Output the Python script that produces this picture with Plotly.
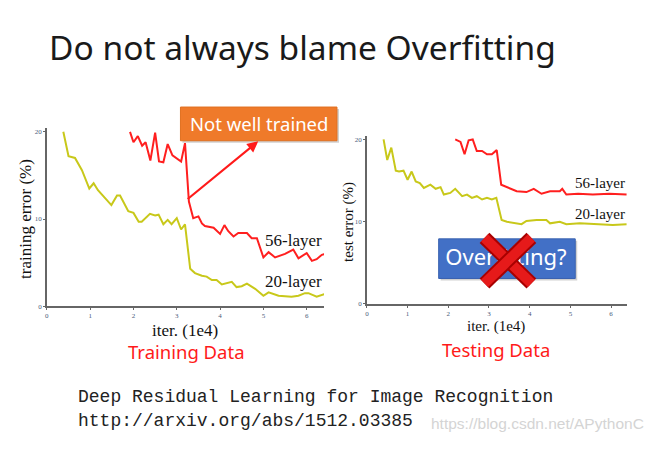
import plotly.graph_objects as go

W, H = 656, 449

# ---- data (iterations in 1e4, error in %) ----
train20_x = [0.38, 0.5, 0.65, 0.81, 0.98, 1.08, 1.18, 1.49, 1.62, 1.69, 1.88, 2.0, 2.12, 2.19, 2.38, 2.5, 2.58, 2.69, 2.79, 2.88, 3.0, 3.1, 3.19, 3.31, 3.42, 3.58, 3.69, 3.81, 3.92, 4.04, 4.27, 4.38, 4.5, 4.62, 4.81, 5.0, 5.12, 5.35, 5.65, 5.81, 5.96, 6.04, 6.23, 6.42]
train20_y = [20.0, 17.2, 17.0, 15.6, 13.5, 14.1, 13.3, 11.6, 12.7, 12.7, 10.9, 10.7, 9.7, 9.7, 10.6, 10.4, 10.5, 9.4, 9.9, 9.4, 10.1, 8.8, 9.4, 4.3, 3.8, 3.5, 3.4, 3.0, 3.0, 2.5, 2.8, 2.2, 2.3, 2.6, 2.0, 1.2, 1.6, 1.2, 1.1, 1.2, 1.5, 1.5, 1.1, 1.4]

train56_x = [1.92, 2.0, 2.1, 2.2, 2.28, 2.39, 2.5, 2.59, 2.69, 2.79, 2.9, 3.0, 3.1, 3.19, 3.28, 3.38, 3.5, 3.58, 3.65, 3.85, 4.0, 4.1, 4.19, 4.31, 4.42, 4.62, 4.73, 4.85, 5.0, 5.12, 5.27, 5.5, 5.69, 5.81, 6.0, 6.12, 6.23, 6.35, 6.42]
train56_y = [20.0, 18.8, 19.5, 18.4, 18.8, 16.7, 19.9, 16.6, 16.5, 18.6, 17.3, 16.9, 16.6, 18.7, 12.0, 10.1, 10.3, 9.5, 9.2, 9.0, 8.3, 9.3, 8.6, 8.0, 8.4, 8.4, 7.8, 7.8, 5.6, 6.2, 5.6, 6.0, 6.5, 5.5, 6.1, 5.2, 5.4, 5.9, 6.0]

test20_x = [0.41, 0.5, 0.6, 0.71, 0.79, 0.9, 1.0, 1.1, 1.2, 1.3, 1.4, 1.56, 1.69, 1.81, 1.89, 2.05, 2.17, 2.34, 2.46, 2.58, 2.7, 2.83, 2.95, 3.07, 3.18, 3.31, 3.44, 3.8, 3.92, 4.17, 4.41, 4.5, 4.74, 4.9, 5.23, 5.64, 6.04, 6.38]
test20_y = [20.0, 17.5, 19.0, 16.2, 16.1, 16.2, 15.1, 16.1, 14.9, 14.7, 14.1, 14.5, 14.0, 14.2, 13.3, 13.5, 14.0, 13.1, 13.3, 12.9, 13.1, 12.7, 12.9, 12.7, 12.9, 10.2, 10.0, 9.7, 10.1, 10.2, 10.2, 9.8, 10.0, 9.7, 9.8, 9.7, 9.6, 9.7]

test56_x = [2.17, 2.3, 2.4, 2.5, 2.6, 2.7, 2.83, 2.95, 3.07, 3.19, 3.3, 3.48, 3.68, 3.92, 4.1, 4.29, 4.5, 4.74, 4.8, 4.9, 5.19, 5.55, 5.96, 6.38]
test56_y = [20.0, 19.7, 18.2, 19.9, 20.0, 18.6, 18.6, 18.2, 18.2, 18.7, 14.5, 14.1, 13.7, 13.6, 14.0, 13.4, 13.7, 13.7, 14.0, 13.3, 13.4, 13.3, 13.4, 13.3]

x_ticks = [0, 1, 2, 3, 4, 5, 6]
y_ticks = [0, 10, 20]

YELLOW = "#c8c81a"
RED = "#ff1f1f"


def px(x):
    return x / W


def py(y):
    return 1 - y / H


fig = go.Figure()
fig.add_trace(go.Scatter(x=train20_x, y=train20_y, mode="lines", line=dict(color=YELLOW, width=2), xaxis="x", yaxis="y"))
fig.add_trace(go.Scatter(x=train56_x, y=train56_y, mode="lines", line=dict(color=RED, width=2), xaxis="x", yaxis="y"))
fig.add_trace(go.Scatter(x=test20_x, y=test20_y, mode="lines", line=dict(color=YELLOW, width=2), xaxis="x2", yaxis="y2"))
fig.add_trace(go.Scatter(x=test56_x, y=test56_y, mode="lines", line=dict(color=RED, width=2), xaxis="x2", yaxis="y2"))

axis_common = dict(showgrid=False, zeroline=False, showline=True, linecolor="#666666", linewidth=1.5,
                   ticks="outside", ticklen=2, tickcolor="#666666",
                   tickfont=dict(family="Liberation Serif", size=7, color="#4a5a7a"))

ytop_l = 309 - 8.8 * 20.4
ytop_r = 306.7 - 8.3 * 20.4
fig.update_layout(
    width=W, height=H, margin=dict(l=0, r=0, t=0, b=0),
    paper_bgcolor="white", plot_bgcolor="rgba(0,0,0,0)", showlegend=False,
    xaxis=dict(domain=[px(45), px(323)], range=[0, 6.4], tickvals=x_ticks, anchor="y", **axis_common),
    yaxis=dict(domain=[py(309), py(ytop_l)], range=[0, 20.4], tickvals=y_ticks, anchor="x", **axis_common),
    xaxis2=dict(domain=[px(366), px(627.3)], range=[0, 6.4], tickvals=x_ticks, anchor="y2", **axis_common),
    yaxis2=dict(domain=[py(306.7), py(ytop_r)], range=[0, 20.4], tickvals=y_ticks, anchor="x2", **axis_common),
    xaxis3=dict(domain=[0, 1], range=[0, W], visible=False, anchor="y3", fixedrange=True),
    yaxis3=dict(domain=[0, 1], range=[H, 0], visible=False, anchor="x3", fixedrange=True),
)

serif = "Liberation Serif"
ann = []


def text(x, y, s, size, color="#111", family=serif, xanchor="center", angle=0):
    ann.append(dict(x=px(x), y=py(y), xref="paper", yref="paper", text=s, showarrow=False,
                    font=dict(family=family, size=size, color=color), xanchor=xanchor, yanchor="middle",
                    textangle=angle))


# title
text(45, 47, "Do not always blame Overfitting", 33.5, color="#1a1a1a", family="Noto Sans", xanchor="left")
# axis titles
text(23, 221, "training error (%)", 17, angle=-90)
text(184, 333, "iter. (1e4)", 17)
text(347, 224, "test error (%)", 15, angle=-90)
text(496, 329, "iter. (1e4)", 15)
# series labels
text(323, 243, "56-layer", 17, xanchor="right")
text(323, 284, "20-layer", 17, xanchor="right")
text(627, 185, "56-layer", 15, xanchor="right")
text(627, 216, "20-layer", 15, xanchor="right")
# captions
text(185, 355, "Training Data", 18.5, color="#ff1a1a", family="Noto Sans")
text(496, 353, "Testing Data", 18.5, color="#ff1a1a", family="Noto Sans")
# reference
text(74, 401, "Deep Residual Learning for Image Recognition", 18, color="#222", family="Liberation Mono", xanchor="left")
text(74, 425, "http://arxiv.org/abs/1512.03385", 18, color="#222", family="Liberation Mono", xanchor="left")
text(428, 427, "https://blog.csdn.net/APythonC", 15.5, color="#d4d4d4", family="Liberation Sans", xanchor="left")

shapes = []


def rect(x0, y0, x1, y1, fill, line="rgba(0,0,0,0)", layer="below"):
    shapes.append(dict(type="rect", xref="paper", yref="paper", x0=px(x0), x1=px(x1), y0=py(y1), y1=py(y0),
                       fillcolor=fill, line=dict(color=line, width=1), layer=layer))


# Not well trained box (above the curves)
rect(181, 110, 338, 144, "rgba(120,120,120,0.35)", layer="above")
rect(179, 108, 336, 142, "#ef7a2a", "#e07020", layer="above")
text(257.5, 125, "Not well trained", 18.5, color="white", family="Noto Sans")
# Overfitting box (below so the red X trace sits over it)
rect(440, 243, 577, 283, "rgba(120,120,120,0.35)")
rect(438, 241, 575, 281, "#4270c6", "#3a62b0")
fig.update_layout(shapes=shapes)

# box label as a text trace so the X can cover it
fig.add_trace(go.Scatter(x=[505.5], y=[262], mode="text", text=["Overfitting?"],
                         textfont=dict(family="Noto Sans", size=22, color="white"),
                         xaxis="x3", yaxis="y3", hoverinfo="skip"))

# arrow
ann.append(dict(x=px(257), y=py(142.5), xref="paper", yref="paper", ax=-72, ay=59, axref="pixel", ayref="pixel",
                text="", showarrow=True, arrowhead=2, arrowsize=1, arrowwidth=2.2, arrowcolor="#ff1a1a"))
fig.update_layout(annotations=ann)

# red X
x_cross_a = [484, 531]
y_cross_a = [240, 286]
x_cross_b = [531, 484]
y_cross_b = [240, 286]
for xs, ys in [(x_cross_a, y_cross_a), (x_cross_b, y_cross_b)]:
    fig.add_trace(go.Scatter(x=xs, y=ys, mode="lines", line=dict(color="#a80000", width=14),
                             xaxis="x3", yaxis="y3", hoverinfo="skip"))
    fig.add_trace(go.Scatter(x=xs, y=ys, mode="lines", line=dict(color="#e61a1a", width=10),
                             xaxis="x3", yaxis="y3", hoverinfo="skip"))

fig.write_html("out.html")
